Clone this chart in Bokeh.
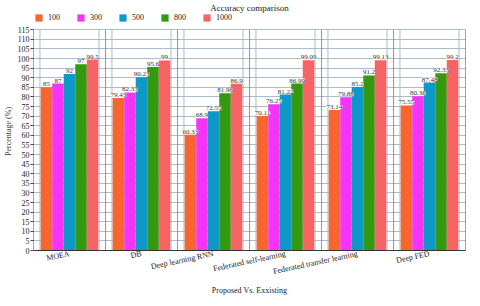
from bokeh.plotting import figure
from bokeh.models import (ColumnDataSource, FixedTicker, Legend, LegendItem,
                          LabelSet, Range1d)
from bokeh.embed import file_html
from bokeh.resources import INLINE

categories = ["MOEA", "DB", "Deep learning RNN", "Federated self-learning",
              "Federated transfer learning", "Deep FED"]
series_names = ["100", "300", "500", "800", "1000"]
s100 = [85, 79.43, 60.33, 70.11, 73.14, 75.55]
s300 = [87, 82.33, 68.9, 76.25, 79.88, 80.36]
s500 = [92, 90.23, 72.55, 81.22, 85.2, 87.48]
s800 = [97, 95.6, 81.96, 86.99, 91.2, 92.33]
s1000 = [99.5, 99, 86.9, 99.09, 99.13, 99.2]
series = [s100, s300, s500, s800, s1000]
colors = ["#F8652F", "#F535F5", "#0E98C8", "#33990F", "#F86464"]
y_ticks = list(range(0, 116, 5))
Y_MAX = 115
Y_TOP = 124  # headroom above the axis for the legend

FONT = "Liberation Serif"
n = len(categories)

p = figure(width=472, height=298, output_backend="svg", toolbar_location=None,
           x_range=Range1d(0, n), y_range=Range1d(0, Y_TOP),
           min_border_left=28, min_border_right=7, min_border_top=0,
           min_border_bottom=44)

p.title.text = "Accuracy comparison"
p.title.align = "center"
p.title.text_font = FONT
p.title.text_font_size = "9px"
p.title.text_font_style = "normal"
p.title.text_color = "#222222"
p.title.standoff = 0

p.xgrid.visible = False
p.ygrid.ticker = FixedTicker(ticks=y_ticks)
p.ygrid.grid_line_color = "#a9bcd0"
p.ygrid.grid_line_width = 1
p.outline_line_color = None

bounds = [float(i) for i in range(1, n)]
p.segment(x0=bounds, y0=[0] * len(bounds), x1=bounds, y1=[Y_MAX] * len(bounds),
          line_color="#8a9aab", line_width=1)
minor = []
for b in range(0, n + 1):
    for d in (-0.09, 0.09):
        xv = b + d
        if 0 < xv < n:
            minor.append(xv)
p.segment(x0=minor, y0=[0] * len(minor), x1=minor, y1=[Y_MAX] * len(minor),
          line_color="#9aa9b8", line_width=0.8)
p.segment(x0=[0, n], y0=[0, 0], x1=[0, n], y1=[Y_MAX, Y_MAX],
          line_color="#444444", line_width=1)

bw = 0.16
items = []
for k, (name, vals, col) in enumerate(zip(series_names, series, colors)):
    off = (k - 2) * bw
    xs = [i + 0.5 + off for i in range(n)]
    src = ColumnDataSource(dict(x=xs, top=vals, lab=[f"{v:g}" for v in vals]))
    r = p.vbar(x="x", top="top", width=bw, bottom=0, source=src,
               fill_color=col, line_color=None)
    items.append(LegendItem(label=name, renderers=[r]))
    labels = LabelSet(x="x", y="top", text="lab", source=src,
                      text_align="center", text_baseline="bottom", y_offset=1,
                      text_font=FONT, text_font_size="7px",
                      text_color="#333333", background_fill_color="white",
                      background_fill_alpha=1.0)
    p.add_layout(labels)

legend = Legend(items=items, orientation="horizontal", location="top_left",
                background_fill_alpha=0, border_line_color=None,
                label_text_font=FONT, label_text_font_size="8px",
                label_text_color="#222222",
                glyph_width=9, glyph_height=9, spacing=8, padding=0,
                margin=1, label_standoff=5, label_height=9, label_width=20)
p.add_layout(legend)

p.xaxis.ticker = FixedTicker(ticks=[i + 0.5 for i in range(n)])
p.xaxis.major_label_overrides = {i + 0.5: c for i, c in enumerate(categories)}
p.xaxis.major_label_orientation = 0.21
p.xaxis.major_label_text_font = FONT
p.xaxis.major_label_text_font_size = "8px"
p.xaxis.major_label_text_color = "#222222"
p.xaxis.major_tick_line_color = None
p.xaxis.major_tick_out = 0
p.xaxis.major_tick_in = 0
p.xaxis.minor_tick_line_color = None
p.xaxis.major_label_standoff = 3
p.xaxis.axis_line_color = "#333333"
p.xaxis.axis_label = "Proposed Vs. Exxisting"
p.xaxis.axis_label_text_font = FONT
p.xaxis.axis_label_text_font_size = "8px"
p.xaxis.axis_label_text_font_style = "normal"
p.xaxis.axis_label_text_color = "#222222"
p.xaxis.axis_label_standoff = 3

p.yaxis.ticker = FixedTicker(ticks=y_ticks)
p.yaxis.major_label_text_font = FONT
p.yaxis.major_label_text_font_size = "8px"
p.yaxis.major_label_text_color = "#222222"
p.yaxis.major_tick_out = 3
p.yaxis.major_tick_in = 0
p.yaxis.major_tick_line_color = "#444444"
p.yaxis.minor_tick_line_color = None
p.yaxis.major_label_standoff = 1
p.yaxis.axis_label = "Percentage (%)"
p.yaxis.axis_label_text_font = FONT
p.yaxis.axis_label_text_font_size = "8px"
p.yaxis.axis_label_text_font_style = "normal"
p.yaxis.axis_label_standoff = 2
p.yaxis.axis_line_color = None

open("out.html", "w").write(file_html(p, INLINE))
